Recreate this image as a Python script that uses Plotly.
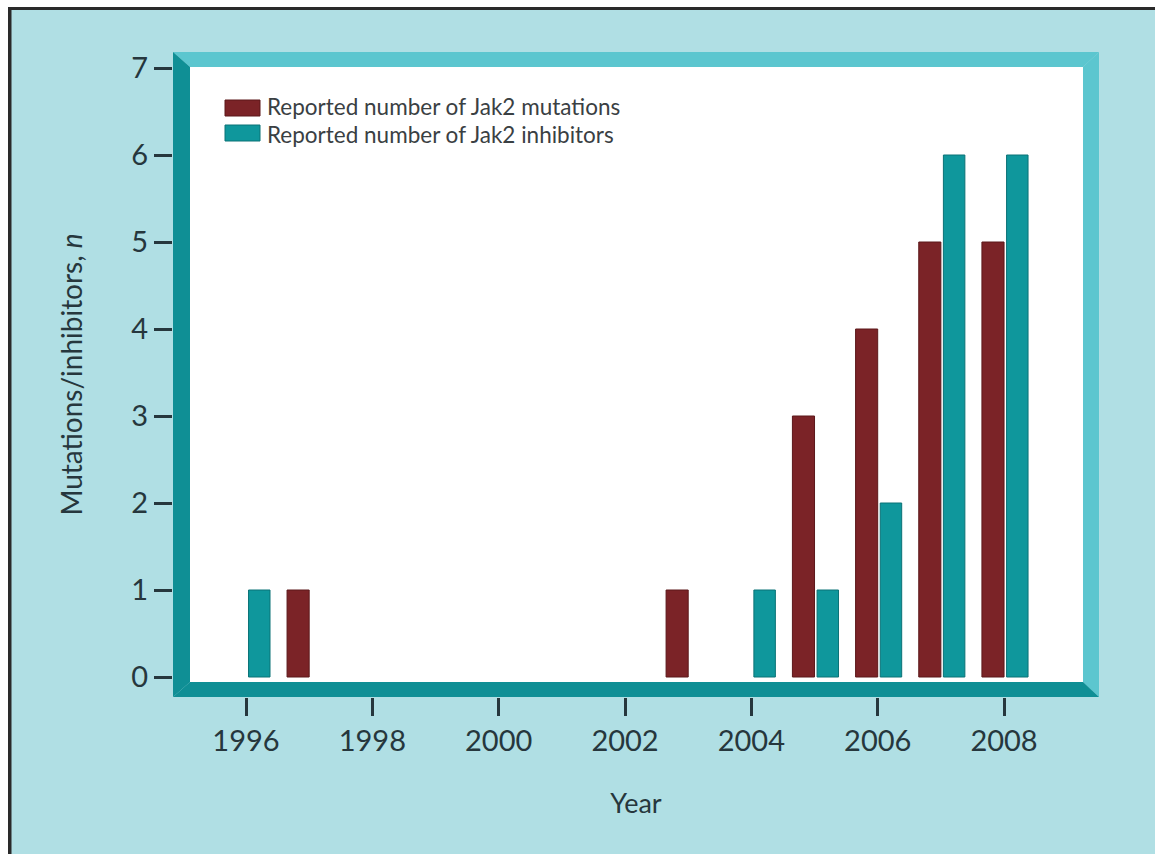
import plotly.graph_objects as go

# Reported Jak2 mutations and inhibitors per year
mutation_years = [1997, 2003, 2005, 2006, 2007, 2008]
mutation_counts = [1, 1, 3, 4, 5, 5]
inhibitor_years = [1996, 2004, 2005, 2006, 2007, 2008]
inhibitor_counts = [1, 1, 1, 2, 6, 6]
x_tick_years = [1996, 1998, 2000, 2002, 2004, 2006, 2008]
y_ticks = [0, 1, 2, 3, 4, 5, 6, 7]
legend_labels = ["Reported number of Jak2 mutations", "Reported number of Jak2 inhibitors"]

MAROON = "#7b2327"
TEAL = "#0f979c"
FRAME_DARK = "#0f8f95"
FRAME_LIGHT = "#5cc6cf"
BG = "#b0dfe4"
TEXT = "#26373d"
FONT = "Lato"

W, H = 1155, 854
# plot area (outer edge of the bevelled frame), in pixels
L, R, T, B = 173, 1099, 52, 697
PW, PH = R - L, B - T


def fx(px):
    return (px - L) / PW


def fy(py):
    return (B - py) / PH


fig = go.Figure()

fig.add_trace(go.Bar(
    x=mutation_years, y=mutation_counts, name=legend_labels[0],
    offset=-0.35, width=0.35,
    marker=dict(color=MAROON, line=dict(color="#5c181b", width=1)),
    showlegend=False,
))
fig.add_trace(go.Bar(
    x=inhibitor_years, y=inhibitor_counts, name=legend_labels[1],
    offset=0.04, width=0.34,
    marker=dict(color=TEAL, line=dict(color="#0b7276", width=1)),
    showlegend=False,
))

shapes = []

# page edge: white strip and dark rule on left and top
shapes.append(dict(type="rect", xref="paper", yref="paper", layer="below",
                   x0=fx(0), x1=fx(W), y0=fy(0), y1=fy(7),
                   fillcolor="white", line=dict(width=0)))
shapes.append(dict(type="rect", xref="paper", yref="paper", layer="below",
                   x0=fx(0), x1=fx(8), y0=fy(0), y1=fy(H),
                   fillcolor="white", line=dict(width=0)))
shapes.append(dict(type="rect", xref="paper", yref="paper", layer="below",
                   x0=fx(8), x1=fx(W), y0=fy(7), y1=fy(10),
                   fillcolor="#2a2a2a", line=dict(width=0)))
shapes.append(dict(type="rect", xref="paper", yref="paper", layer="below",
                   x0=fx(8), x1=fx(11.5), y0=fy(7), y1=fy(H),
                   fillcolor="#2a2a2a", line=dict(width=0)))

# white inner panel
iL, iR, iT, iB = 190, 1083, 67, 682
shapes.append(dict(type="rect", xref="paper", yref="paper", layer="below",
                   x0=fx(iL), x1=fx(iR), y0=fy(iB), y1=fy(iT),
                   fillcolor="white", line=dict(width=0)))


def poly(pts, color):
    path = "M " + " L ".join(f"{fx(a):.5f},{fy(b):.5f}" for a, b in pts) + " Z"
    return dict(type="path", xref="paper", yref="paper", layer="below",
                path=path, fillcolor=color, line=dict(width=0))


# bevelled frame: light top/right, dark left/bottom
shapes.append(poly([(L, T), (R, T), (iR, iT), (iL, iT)], FRAME_LIGHT))
shapes.append(poly([(R, T), (R, B), (iR, iB), (iR, iT)], FRAME_LIGHT))
shapes.append(poly([(L, T), (iL, iT), (iL, iB), (L, B)], FRAME_DARK))
shapes.append(poly([(L, B), (iL, iB), (iR, iB), (R, B)], FRAME_DARK))

# legend swatches
sw_x0, sw_x1 = 225, 260
shapes.append(dict(type="rect", xref="paper", yref="paper",
                   x0=fx(sw_x0), x1=fx(sw_x1), y0=fy(116), y1=fy(100),
                   fillcolor=MAROON, line=dict(color="#5c181b", width=1)))
shapes.append(dict(type="rect", xref="paper", yref="paper",
                   x0=fx(sw_x0), x1=fx(sw_x1), y0=fy(141), y1=fy(125),
                   fillcolor=TEAL, line=dict(color="#0b7276", width=1)))

annotations = []
for label, yc in zip(legend_labels, [106.5, 134]):
    annotations.append(dict(xref="paper", yref="paper", x=fx(265), y=fy(yc),
                            text=label, showarrow=False, xanchor="left",
                            yanchor="middle",
                            font=dict(family=FONT, size=22.5, color="#3a4043")))

fig.update_layout(
    width=W, height=H,
    margin=dict(l=L, r=W - R, t=T, b=H - B, pad=0),
    paper_bgcolor=BG,
    plot_bgcolor="rgba(0,0,0,0)",
    barmode="overlay",
    shapes=shapes,
    annotations=annotations,
    font=dict(family=FONT, color=TEXT, size=24),
    xaxis=dict(
        range=[1996 - 73 / 63.17, 1996 + 853 / 63.17],
        tickvals=x_tick_years, ticktext=[str(v) for v in x_tick_years],
        ticks="outside", ticklen=18, tickwidth=3, tickcolor=TEXT,
        showgrid=False, zeroline=False, showline=False,
        tickfont=dict(family=FONT, size=29, color=TEXT),
        title=dict(text="Year", standoff=38,
                   font=dict(family=FONT, size=27, color=TEXT)),
        fixedrange=True,
    ),
    yaxis=dict(
        range=[-20 / 87, 7 + 16 / 87],
        tickvals=y_ticks,
        ticks="outside", ticklen=18, tickwidth=3, tickcolor=TEXT,
        showgrid=False, zeroline=False, showline=False,
        tickfont=dict(family=FONT, size=29, color=TEXT),
        title=dict(text="Mutations/inhibitors, <i>n</i>", standoff=40,
                   font=dict(family=FONT, size=28, color=TEXT)),
        fixedrange=True,
    ),
)

fig.write_html("out.html")
